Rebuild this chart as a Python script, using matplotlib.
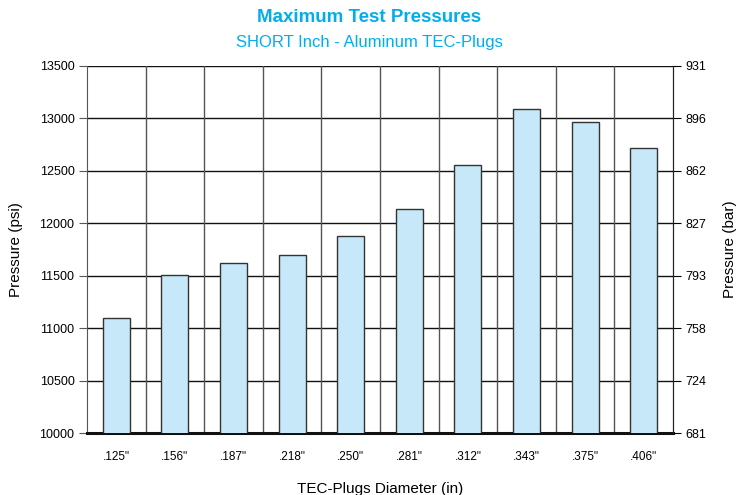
import numpy as np
import matplotlib.pyplot as plt

plt.rcParams['font.family'] = ['Liberation Sans', 'DejaVu Sans']

# data
diameters = ['.125"', '.156"', '.187"', '.218"', '.250"', '.281"', '.312"', '.343"', '.375"', '.406"']
pressure_psi = [11100, 11510, 11620, 11700, 11880, 12140, 12560, 13090, 12970, 12720]
psi_ticks = [10000, 10500, 11000, 11500, 12000, 12500, 13000, 13500]
bar_labels = ['681', '724', '758', '793', '827', '862', '896', '931']

fig = plt.figure(figsize=(7.38, 4.95), dpi=100)
ax = fig.add_axes([87/738, 1 - 433/495, 586/738, 367/495])

x = np.arange(len(diameters))
ax.bar(x, pressure_psi, width=0.46, bottom=0, color='#c6e8f8',
       edgecolor='#333333', linewidth=1.0, zorder=3)

ax.set_xlim(-0.5, len(diameters) - 0.5)
ax.set_ylim(psi_ticks[0], psi_ticks[-1])
ax.set_yticks(psi_ticks)
ax.set_yticklabels([str(t) for t in psi_ticks], fontsize=9)
ax.set_xticks(x)
ax.set_xticklabels(diameters, fontsize=8.5)
ax.tick_params(axis='x', length=0, pad=13)
ax.tick_params(axis='y', length=6, width=0.8, color='#555555', pad=3)

# grid: black horizontal, grey vertical at category boundaries
for t in psi_ticks[1:]:
    ax.axhline(t, color='#111111', linewidth=1.0, zorder=1)
for b in np.arange(0.5, len(diameters) - 0.5, 1):
    ax.axvline(b, color='#555555', linewidth=1.0, zorder=1)

ax.spines['top'].set_visible(False)
ax.spines['left'].set_color('#555555')
ax.spines['right'].set_color('#222222')
ax.spines['bottom'].set_linewidth(2.2)
ax.spines['bottom'].set_color('#111111')

ax.set_ylabel('Pressure (psi)', fontsize=11, labelpad=12)
ax.set_xlabel('TEC-Plugs Diameter (in)', fontsize=11, labelpad=14)

ax2 = ax.twinx()
ax2.set_ylim(psi_ticks[0], psi_ticks[-1])
ax2.set_yticks(psi_ticks)
ax2.set_yticklabels(bar_labels, fontsize=9)
ax2.tick_params(axis='y', length=6, width=0.8, pad=3)
ax2.set_ylabel('Pressure (bar)', fontsize=11, labelpad=12)
for s in ['top', 'left', 'bottom']:
    ax2.spines[s].set_visible(False)
ax2.spines['right'].set_color('#222222')

fig.text(0.5, 1 - 18/495, 'Maximum Test Pressures', ha='center', va='center',
         fontsize=13.5, fontweight='bold', color='#00aeef')
fig.text(0.5, 1 - 42/495, 'SHORT Inch - Aluminum TEC-Plugs', ha='center', va='center',
         fontsize=12, color='#00aeef')

fig.savefig('out.png', dpi=100)
